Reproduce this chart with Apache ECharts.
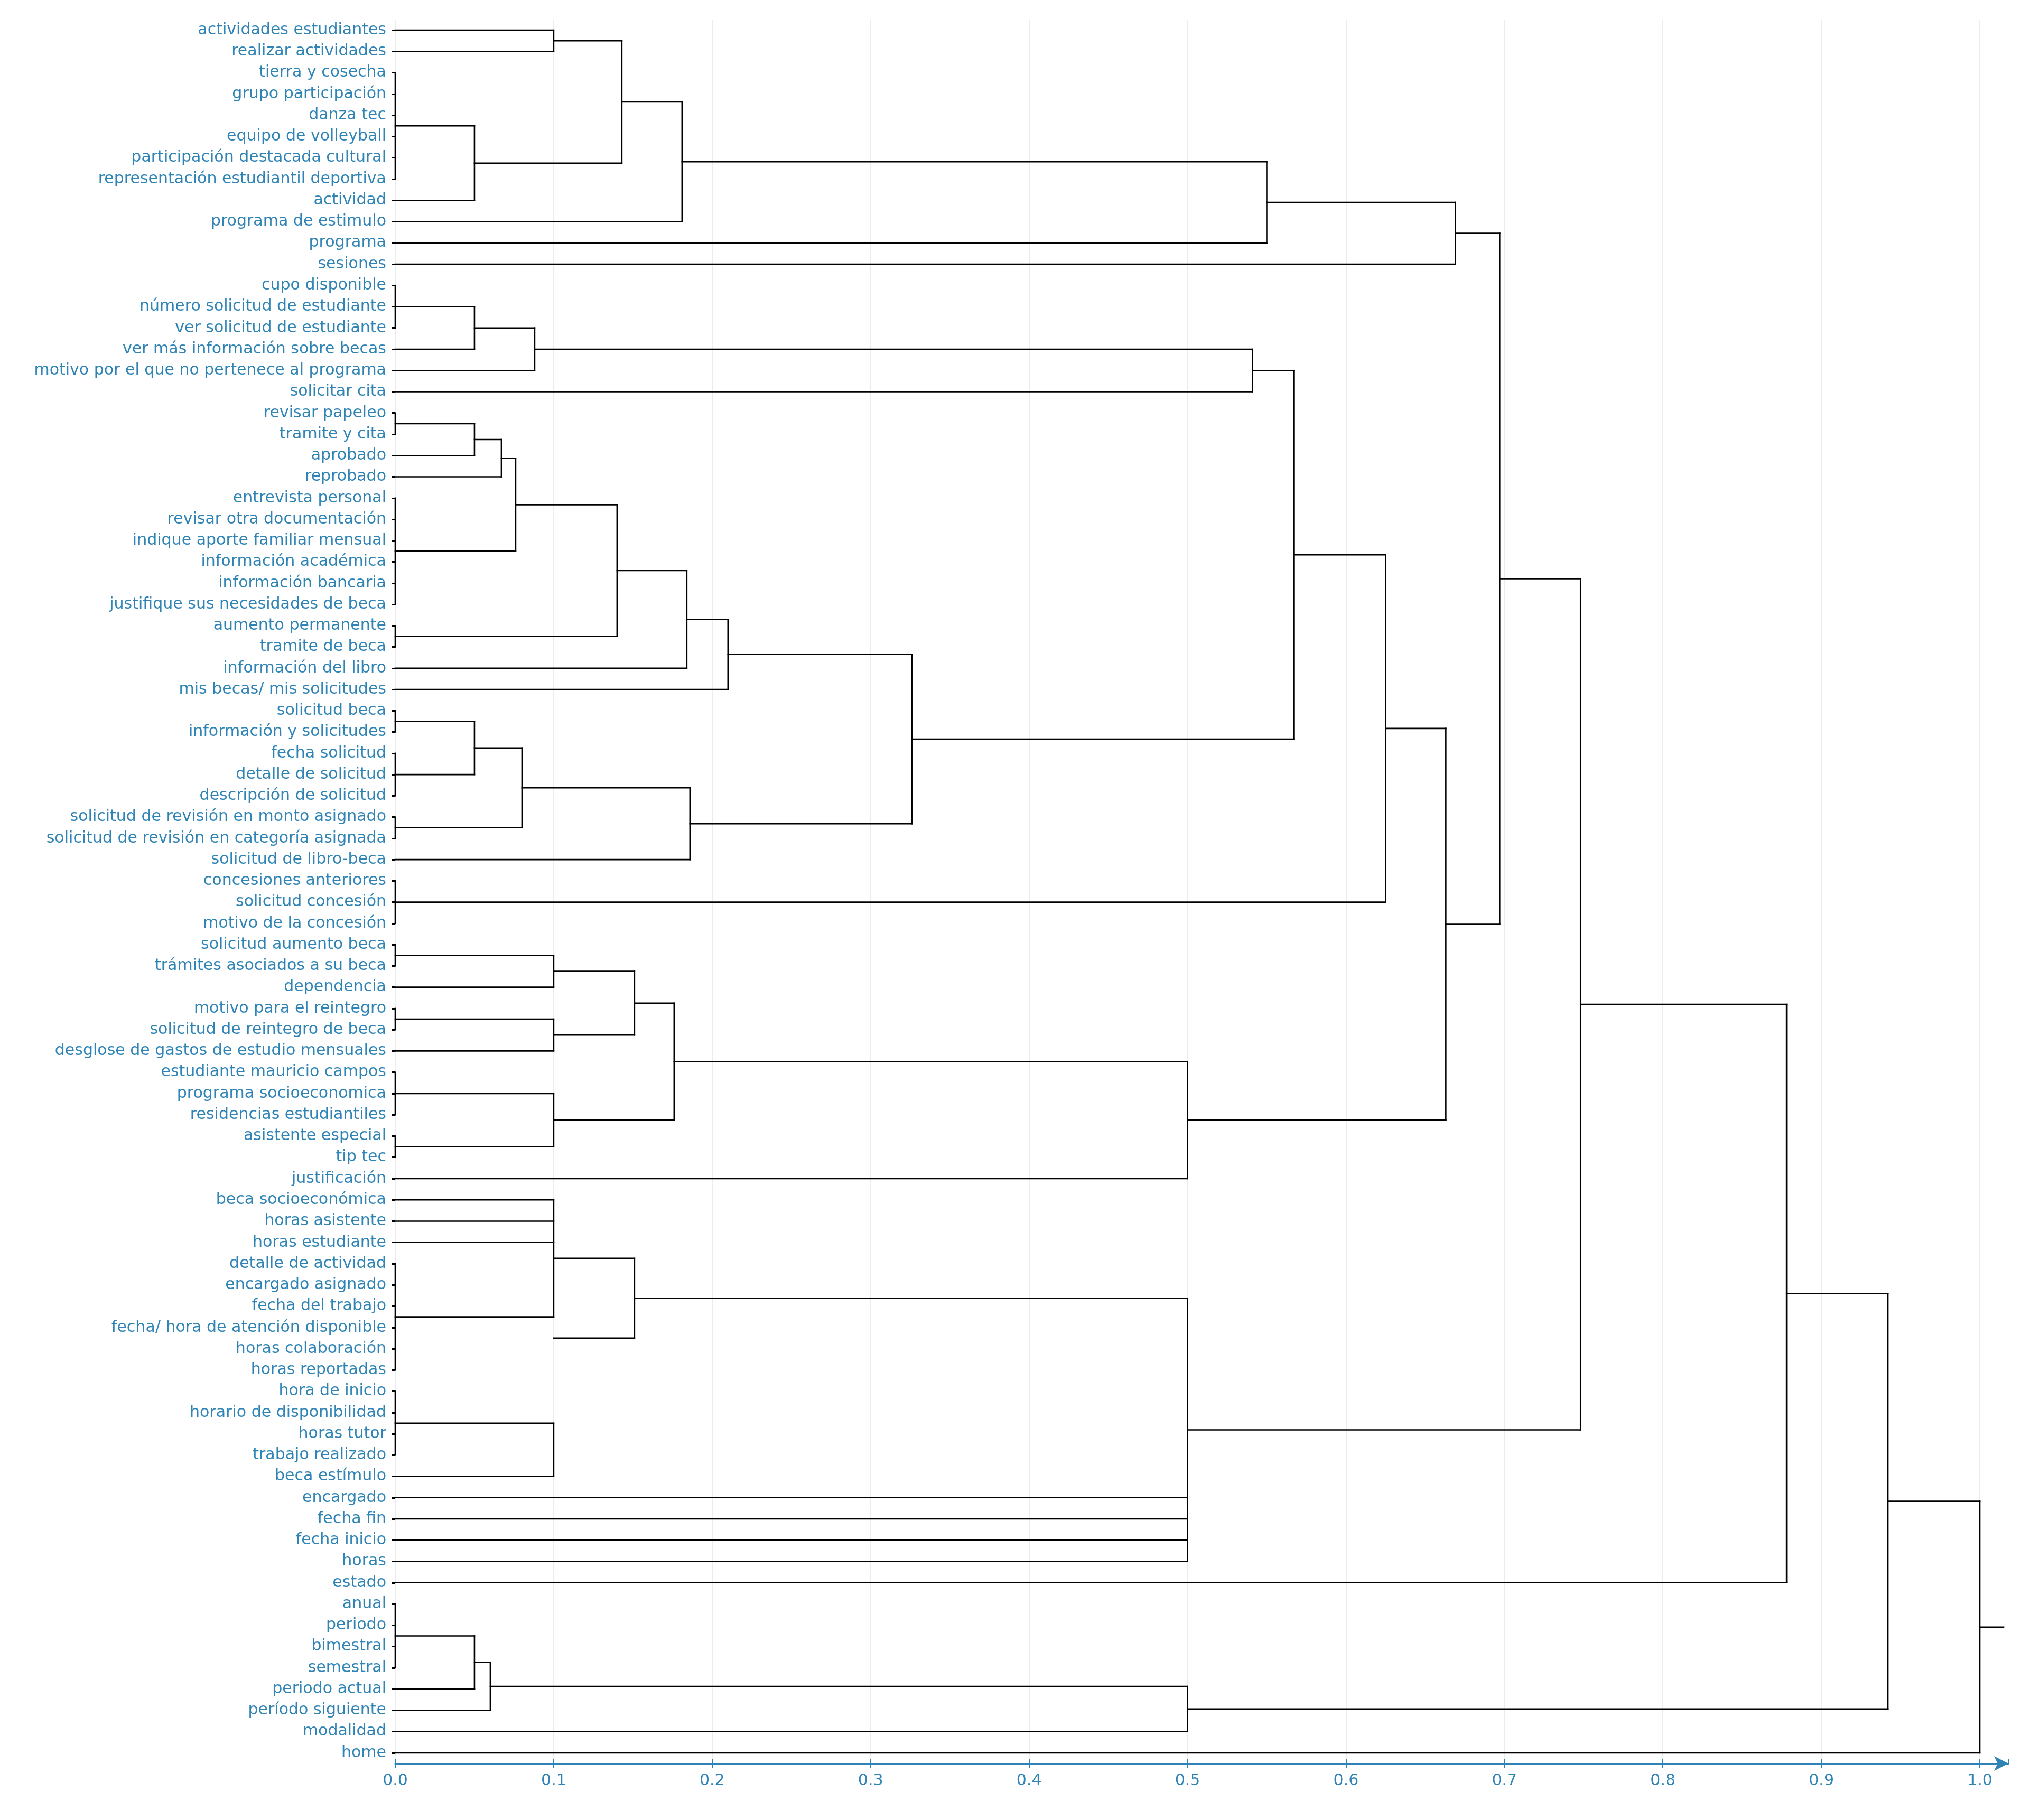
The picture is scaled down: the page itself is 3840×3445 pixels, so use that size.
<!DOCTYPE html>
<html>
<head>
<meta charset="utf-8">
<script src="https://cdn.jsdelivr.net/npm/echarts@6/dist/echarts.min.js"></script>
<style>
  html, body { margin: 0; padding: 0; background: #ffffff; }
  #chart { width: 3840px; height: 3445px; }
</style>
</head>
<body>
<div id="chart"></div>
<script>
// ---- Leaves (top to bottom) ----
const leaves = [
  'actividades estudiantes', 'realizar actividades', 'tierra y cosecha', 'grupo participación',
  'danza tec', 'equipo de volleyball', 'participación destacada cultural',
  'representación estudiantil deportiva', 'actividad', 'programa de estimulo', 'programa',
  'sesiones', 'cupo disponible', 'número solicitud de estudiante', 'ver solicitud de estudiante',
  'ver más información sobre becas', 'motivo por el que no pertenece al programa', 'solicitar cita',
  'revisar papeleo', 'tramite y cita', 'aprobado', 'reprobado', 'entrevista personal',
  'revisar otra documentación', 'indique aporte familiar mensual', 'información académica',
  'información bancaria', 'justifique sus necesidades de beca', 'aumento permanente',
  'tramite de beca', 'información del libro', 'mis becas/ mis solicitudes', 'solicitud beca',
  'información y solicitudes', 'fecha solicitud', 'detalle de solicitud', 'descripción de solicitud',
  'solicitud de revisión en monto asignado', 'solicitud de revisión en categoría asignada',
  'solicitud de libro-beca', 'concesiones anteriores', 'solicitud concesión', 'motivo de la concesión',
  'solicitud aumento beca', 'trámites asociados a su beca', 'dependencia', 'motivo para el reintegro',
  'solicitud de reintegro de beca', 'desglose de gastos de estudio mensuales',
  'estudiante mauricio campos', 'programa socioeconomica', 'residencias estudiantiles',
  'asistente especial', 'tip tec', 'justificación', 'beca socioeconómica', 'horas asistente',
  'horas estudiante', 'detalle de actividad', 'encargado asignado', 'fecha del trabajo',
  'fecha/ hora de atención disponible', 'horas colaboración', 'horas reportadas', 'hora de inicio',
  'horario de disponibilidad', 'horas tutor', 'trabajo realizado', 'beca estímulo', 'encargado',
  'fecha fin', 'fecha inicio', 'horas', 'estado', 'anual', 'periodo', 'bimestral', 'semestral',
  'periodo actual', 'período siguiente', 'modalidad', 'home'
];

// ---- Merges: height of each merge ----
const mergeHeights = [
  0.1, 0, 0.05, 0.143, 0.181, 0.55, 0.669,          // m0 - m6
  0, 0.05, 0.088, 0.541,                             // m7 - m10
  0, 0.05, 0.067, 0, 0.076, 0, 0.14, 0.184, 0.21,    // m11 - m19
  0, 0, 0.05, 0, 0.08, 0.186, 0.326, 0.567,          // m20 - m27
  0, 0.625,                                          // m28 - m29
  0, 0.1, 0, 0.1, 0.151, 0, 0, 0.1, 0.176, 0.5,      // m30 - m39
  0.663, 0.697,                                      // m40 - m41
  0, 0.1, 0, 0.1, 0.1, 0.151, 0.5,                   // m42 - m48
  0.748, 0.878,                                      // m49 - m50
  0, 0.05, 0.06, 0.5,                                // m51 - m54
  0.942, 1.0                                         // m55 - m56
];

// ---- Merges: members (number = leaf index, 'mK' = merge K) ----
const mergeChildren = [
  [0, 1], [2, 3, 4, 5, 6, 7], ['m1', 8], ['m0', 'm2'], ['m3', 9], ['m4', 10], ['m5', 11],
  [12, 13, 14], ['m7', 15], ['m8', 16], ['m9', 17],
  [18, 19], ['m11', 20], ['m12', 21], [22, 23, 24, 25, 26, 27], ['m13', 'm14'], [28, 29],
  ['m15', 'm16'], ['m17', 30], ['m18', 31],
  [32, 33], [34, 35, 36], ['m20', 'm21'], [37, 38], ['m22', 'm23'], ['m24', 39], ['m19', 'm25'],
  ['m10', 'm26'],
  [40, 41, 42], ['m27', 'm28'],
  [43, 44], ['m30', 45], [46, 47], ['m32', 48], ['m31', 'm33'], [49, 50, 51], [52, 53],
  ['m35', 'm36'], ['m34', 'm37'], ['m38', 54],
  ['m29', 'm39'], ['m6', 'm40'],
  [58, 59, 60, 61, 62, 63], [55, 56, 57, 'm42'], [64, 65, 66, 67], ['m44', 68], ['m45'],
  ['m43', 'm46'], ['m47', 69, 70, 71, 72],
  ['m41', 'm48'], ['m49', 73],
  [74, 75, 76, 77], ['m51', 78], ['m52', 79], ['m53', 80],
  ['m50', 'm54'], ['m55', 81]
];

// row (leaf position) at which one merge is drawn, as in the original picture
const nodeRowOverride = { 46: 61.5 };
const rootStub = 0.015;
const xTicks = [0, 0.1, 0.2, 0.3, 0.4, 0.5, 0.6, 0.7, 0.8, 0.9, 1.0];

// ---- build link segments from the merges ----
function buildSegments() {
  const nodeRow = [];
  const segs = [];
  const xOf = c => (typeof c === 'number') ? 0 : mergeHeights[+c.slice(1)];
  const rowOf = c => (typeof c === 'number') ? c : nodeRow[+c.slice(1)];
  mergeHeights.forEach((h, i) => {
    const ch = mergeChildren[i];
    const rs = ch.map(rowOf);
    const lo = Math.min.apply(null, rs), hi = Math.max.apply(null, rs);
    nodeRow[i] = (i in nodeRowOverride) ? nodeRowOverride[i] : (lo + hi) / 2;
    if (hi > lo) segs.push([h, lo, h, hi]);
    ch.forEach((c, k) => {
      const x0 = xOf(c);
      if (h > x0) segs.push([x0, rs[k], h, rs[k]]);
    });
  });
  const last = mergeHeights.length - 1;
  segs.push([mergeHeights[last], nodeRow[last], mergeHeights[last] + rootStub, nodeRow[last]]);
  return segs;
}

const segments = buildSegments();
const BLUE = '#2f84b5';
const FONT = 'DejaVu Sans';

const chart = echarts.init(document.getElementById('chart'), null, { renderer: 'canvas' });
chart.setOption({
  backgroundColor: '#ffffff',
  animation: false,
  grid: { left: 748, right: 39, top: 37, bottom: 107, containLabel: false },
  xAxis: [
    {
      type: 'value', min: 0, max: 1.018, interval: 0.1, position: 'bottom',
      axisLine: { show: true, onZero: false, lineStyle: { color: BLUE, width: 3 }, symbol: ['none', 'arrow'], symbolSize: [21, 27] },
      axisTick: { show: true, length: 8.5, lineStyle: { color: BLUE, width: 2 } },
      axisLabel: {
        color: BLUE, fontSize: 30, fontFamily: FONT, margin: 18, showMaxLabel: false,
        formatter: v => (xTicks.indexOf(Math.round(v * 10) / 10) >= 0 && Math.abs(v * 10 - Math.round(v * 10)) < 1e-6) ? v.toFixed(1) : ''
      },
      splitLine: { show: true, showMaxLine: false, lineStyle: { color: '#ececec', width: 2 } }
    },
    {
      type: 'value', min: 0, max: 1.018, interval: 0.1, position: 'bottom',
      axisLine: { show: false, onZero: false },
      axisTick: { show: true, inside: true, length: 8.5, lineStyle: { color: BLUE, width: 2 } },
      axisLabel: { show: false },
      splitLine: { show: false }
    }
  ],
  yAxis: [
    {
      type: 'category', data: leaves, inverse: true, boundaryGap: true,
      axisLine: { show: false, onZero: false },
      axisTick: { show: true, alignWithLabel: true, length: 7, lineStyle: { color: '#000000', width: 3 } },
      axisLabel: { color: BLUE, fontSize: 30, fontFamily: FONT, margin: 17, interval: 0 },
      splitLine: { show: false }
    },
    {
      type: 'value', min: -0.5, max: leaves.length - 0.5, inverse: true, show: false,
      axisLine: { onZero: false },
      splitLine: { show: false }
    }
  ],
  series: [
    {
      type: 'custom',
      xAxisIndex: 0,
      yAxisIndex: 1,
      clip: false,
      silent: true,
      encode: { x: [0, 2], y: [1, 3] },
      data: segments,
      renderItem: function (params, api) {
        const p1 = api.coord([api.value(0), api.value(1)]);
        const p2 = api.coord([api.value(2), api.value(3)]);
        return {
          type: 'line',
          shape: { x1: p1[0], y1: p1[1], x2: p2[0], y2: p2[1] },
          style: { stroke: '#000000', lineWidth: 2.6, lineCap: 'square' }
        };
      }
    }
  ]
});
</script>
</body>
</html>
